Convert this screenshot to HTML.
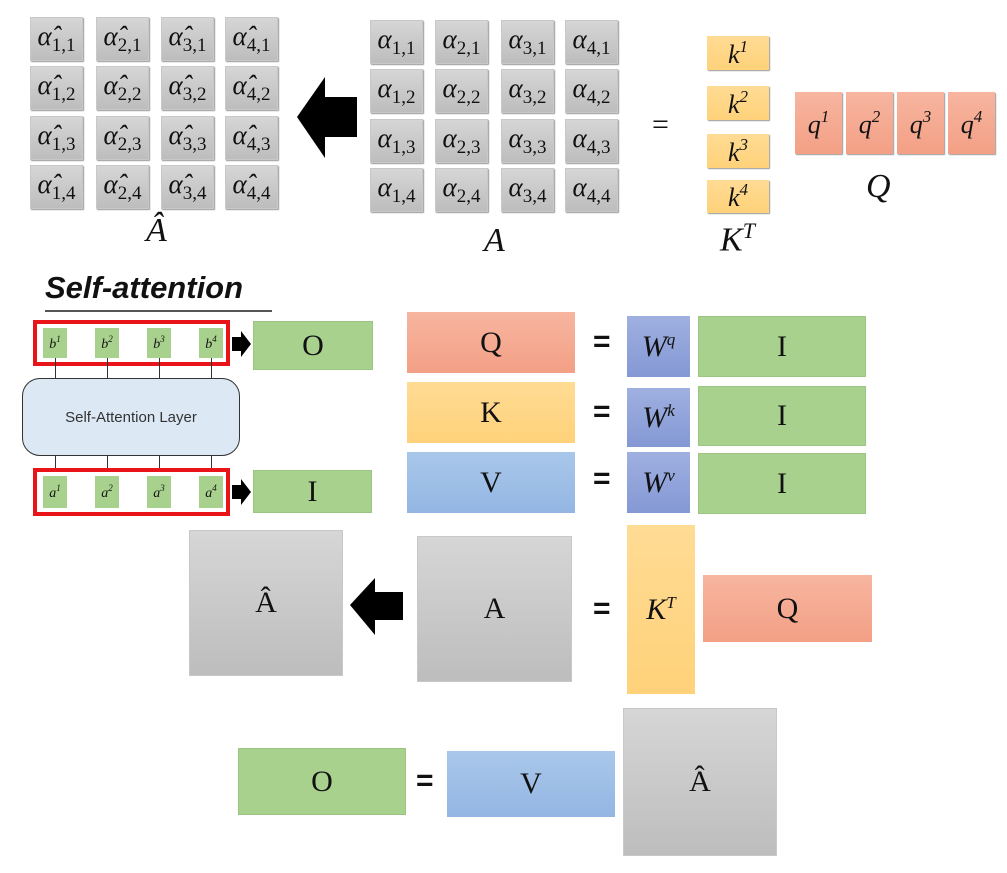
<!DOCTYPE html>
<html><head><meta charset="utf-8"><style>
body{margin:0;width:1007px;height:873px;background:#fff;position:relative;overflow:hidden;font-family:"Liberation Serif",serif}
.b{position:absolute;box-sizing:border-box;display:flex;align-items:center;justify-content:center;color:#111}
.b>span{display:inline-block;white-space:nowrap}
.g{background:linear-gradient(#d6d6d6,#bdbdbd);border:1px solid #c8c8c8}
.cell{font-style:italic;font-size:27px;box-shadow:1px 1px 1px #999}
.cell sub{font-style:normal;font-size:19px;vertical-align:-6px}
.m{font-style:italic}
.m sup{font-size:17px;vertical-align:11px;font-style:italic}
.green{background:#a9d18e;border:1px solid #9cc583;font-size:30px}
.sal{background:linear-gradient(#f7b5a0,#f3a085);font-size:30px}
.yel{background:linear-gradient(#ffdb94,#ffd27a);font-size:30px}
.blu{background:linear-gradient(#a9c7ea,#93b6e3);font-size:30px}
.pur{background:linear-gradient(#9fb0e0,#8498d4);font-size:30px}
.eq{position:absolute;font-family:"Liberation Sans",sans-serif;font-weight:bold;font-size:30px;color:#111}
.t{position:absolute;font-style:italic;font-size:34px;color:#111}
.sm{background:#a9d18e;font-size:14px;font-style:italic}
.sm sup{font-size:9px;vertical-align:6px}
.ln{position:absolute;width:1px;background:#333}
</style></head><body>
<div id="ahat-grid"></div>
<div id="a-grid"></div>
<svg style="position:absolute;left:0;top:0" width="1007" height="873">
<polygon points="297,117 325,77 325,97 357,97 357,137 325,137 325,158" fill="#000"/>
<polygon points="350,605 375,578 375,592 403,592 403,620 375,620 375,635" fill="#000"/>
<polygon points="232,337 241,337 241,331 251,344 241,357 241,351 232,351" fill="#000"/>
<polygon points="232,485 241,485 241,479 251,492 241,505 241,499 232,499" fill="#000"/>
<line x1="45" y1="311" x2="272" y2="311" stroke="#555" stroke-width="2"/>
</svg>
<div class="t" style="left:146px;top:212px">Â</div>
<div class="t" style="left:484px;top:222px">A</div>
<div class="t" style="left:652px;top:108px;font-style:normal;font-size:30px">=</div>
<div class="b yel cell m" style="left:707px;top:36px;width:62px;height:34px;font-size:26px">k<sup>1</sup></div>
<div class="b yel cell m" style="left:707px;top:86px;width:62px;height:34px;font-size:26px">k<sup>2</sup></div>
<div class="b yel cell m" style="left:707px;top:134px;width:62px;height:34px;font-size:26px">k<sup>3</sup></div>
<div class="b yel cell m" style="left:707px;top:180px;width:62px;height:33px;font-size:26px">k<sup>4</sup></div>
<div class="t" style="left:720px;top:218px">K<sup style="font-size:22px">T</sup></div>
<div class="b sal cell m" style="left:795px;top:92px;width:47px;height:62px;font-size:26px">q<sup>1</sup></div>
<div class="b sal cell m" style="left:846px;top:92px;width:47px;height:62px;font-size:26px">q<sup>2</sup></div>
<div class="b sal cell m" style="left:897px;top:92px;width:47px;height:62px;font-size:26px">q<sup>3</sup></div>
<div class="b sal cell m" style="left:948px;top:92px;width:47px;height:62px;font-size:26px">q<sup>4</sup></div>
<div class="t" style="left:866px;top:168px">Q</div>

<div style="position:absolute;left:45px;top:270px;font-family:'Liberation Sans',sans-serif;font-weight:bold;font-style:italic;font-size:31px;color:#111">Self-attention</div>
<div style="position:absolute;left:33px;top:320px;width:197px;height:46px;box-sizing:border-box;border:4px solid #e8141a"></div>
<div style="position:absolute;left:33px;top:468px;width:197px;height:48px;box-sizing:border-box;border:4px solid #e8141a"></div>
<div class="b sm m" style="left:43px;top:328px;width:24px;height:30px">b<sup>1</sup></div>
<div class="b sm m" style="left:95px;top:328px;width:24px;height:30px">b<sup>2</sup></div>
<div class="b sm m" style="left:147px;top:328px;width:24px;height:30px">b<sup>3</sup></div>
<div class="b sm m" style="left:199px;top:328px;width:24px;height:30px">b<sup>4</sup></div>
<div class="b sm m" style="left:43px;top:476px;width:24px;height:32px">a<sup>1</sup></div>
<div class="b sm m" style="left:95px;top:476px;width:24px;height:32px">a<sup>2</sup></div>
<div class="b sm m" style="left:147px;top:476px;width:24px;height:32px">a<sup>3</sup></div>
<div class="b sm m" style="left:199px;top:476px;width:24px;height:32px">a<sup>4</sup></div>
<div class="ln" style="left:55px;top:358px;height:110px"></div>
<div class="ln" style="left:107px;top:358px;height:110px"></div>
<div class="ln" style="left:159px;top:358px;height:110px"></div>
<div class="ln" style="left:211px;top:358px;height:110px"></div>
<div class="b" style="left:22px;top:378px;width:218px;height:78px;background:#dce9f5;border:1.5px solid #333;border-radius:18px;font-family:'Liberation Sans',sans-serif;font-size:15px;color:#333">Self-Attention Layer</div>
<div class="b green" style="left:253px;top:321px;width:120px;height:49px">O</div>
<div class="b green" style="left:253px;top:470px;width:119px;height:43px">I</div>

<div class="b sal" style="left:407px;top:312px;width:168px;height:61px">Q</div>
<div class="b yel" style="left:407px;top:382px;width:168px;height:61px">K</div>
<div class="b blu" style="left:407px;top:452px;width:168px;height:61px">V</div>
<div class="eq" style="left:593px;top:325px">=</div>
<div class="eq" style="left:593px;top:395px">=</div>
<div class="eq" style="left:593px;top:462px">=</div>
<div class="b pur m" style="left:627px;top:316px;width:63px;height:61px">W<sup>q</sup></div>
<div class="b pur m" style="left:627px;top:388px;width:63px;height:59px">W<sup>k</sup></div>
<div class="b pur m" style="left:627px;top:452px;width:63px;height:61px">W<sup>v</sup></div>
<div class="b green" style="left:698px;top:316px;width:168px;height:61px">I</div>
<div class="b green" style="left:698px;top:386px;width:168px;height:60px">I</div>
<div class="b green" style="left:698px;top:453px;width:168px;height:61px">I</div>

<div class="b g" style="left:189px;top:530px;width:154px;height:146px;font-size:30px">Â</div>
<div class="b g" style="left:417px;top:536px;width:155px;height:146px;font-size:30px">A</div>
<div class="eq" style="left:593px;top:592px">=</div>
<div class="b yel m" style="left:627px;top:525px;width:68px;height:169px">K<sup>T</sup></div>
<div class="b sal" style="left:703px;top:575px;width:169px;height:67px">Q</div>

<div class="b green" style="left:238px;top:748px;width:168px;height:67px">O</div>
<div class="eq" style="left:416px;top:764px">=</div>
<div class="b blu" style="left:447px;top:751px;width:168px;height:66px">V</div>
<div class="b g" style="left:623px;top:708px;width:154px;height:148px;font-size:30px">Â</div>

<script>
const colsHat=[30,96,161,225], colsA=[370,435,501,565], rows=[17,66,116,165];
function grid(id,cols,hat,dy){
  const host=document.getElementById(id);
  for(let r=0;r<4;r++)for(let c=0;c<4;c++){
    const d=document.createElement('div');
    d.className='b g cell';
    
    
    d.style.left=cols[c]+'px';d.style.top=(rows[r]+dy)+'px';
    d.style.width='53px';d.style.height='44px';
    d.innerHTML=(hat?'α\u0302':'α')+'<sub>'+(c+1)+','+(r+1)+'</sub>';
    host.appendChild(d);
  }
}
grid('ahat-grid',colsHat,true,0);
grid('a-grid',colsA,false,3);
document.querySelectorAll('.b').forEach(function(e){e.innerHTML='<span>'+e.innerHTML+'</span>';});
</script>
</body></html>
